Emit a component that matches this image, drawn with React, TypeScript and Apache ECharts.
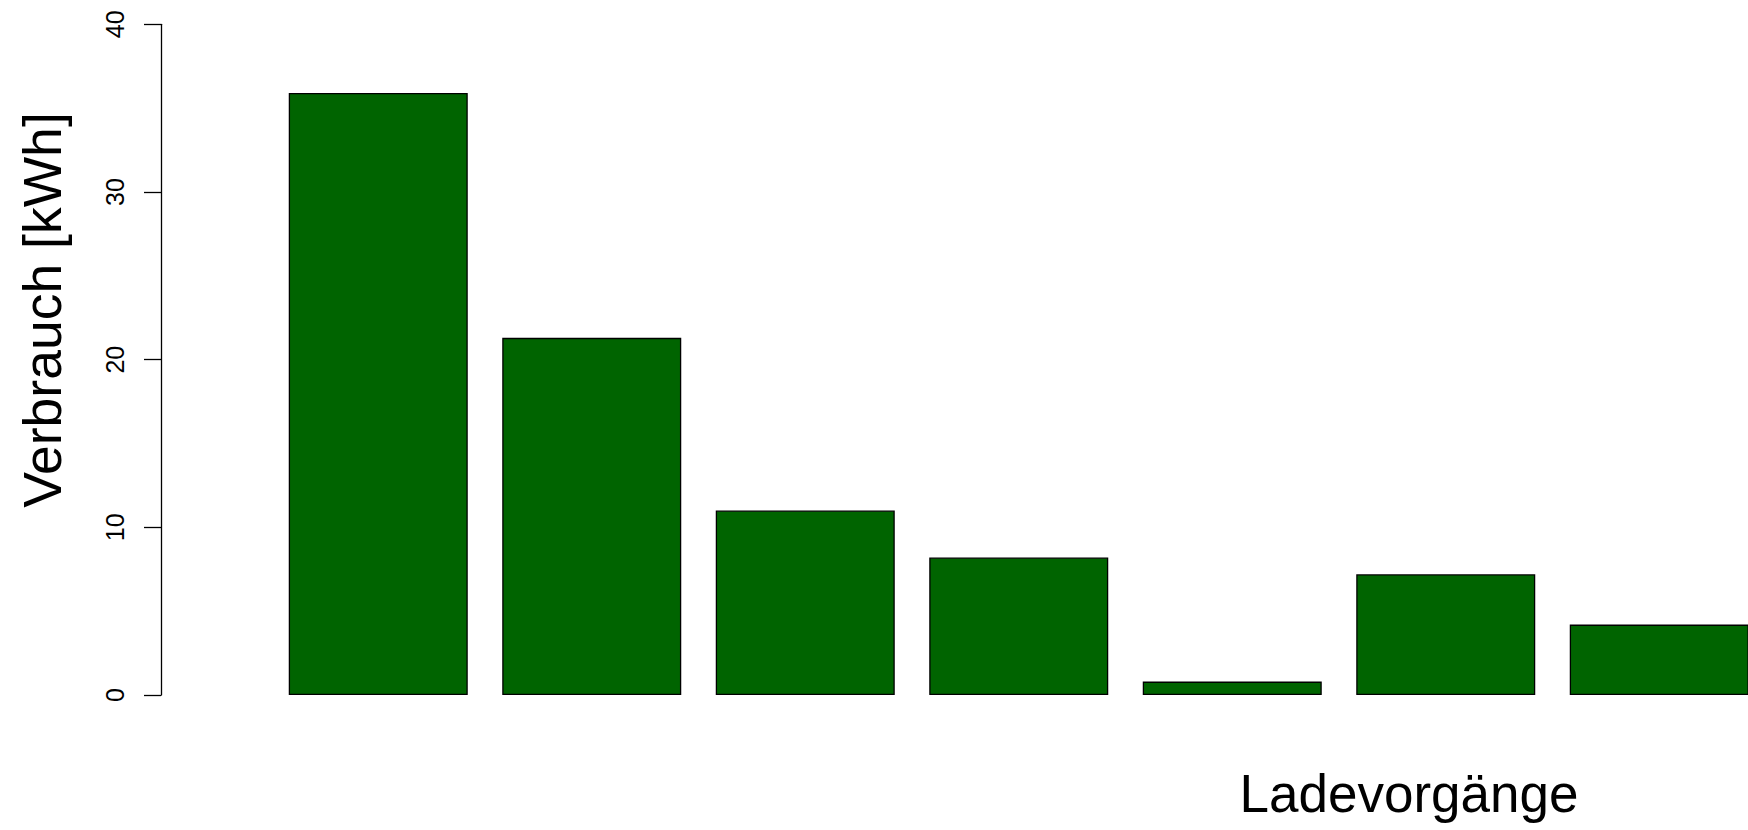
import React, { useEffect, useRef } from "react";
import * as echarts from "echarts";

const categories = ["1", "2", "3", "4", "5", "6", "7"];
const verbrauch = [35.9, 21.3, 11.0, 8.2, 0.8, 7.2, 4.2];
const yMin = 0;
const yMax = 40;
const yInterval = 10;
const yTitle = "Verbrauch [kWh]";
const xTitle = "Ladevorgänge";

const FONT = "'Liberation Sans', Arial, Helvetica, sans-serif";

export default function App() {
  const ref = useRef<HTMLDivElement>(null);
  useEffect(() => {
    if (!ref.current) return;
    const chart = echarts.init(ref.current, undefined, { renderer: "svg" });
    chart.setOption({
      animation: false,
      backgroundColor: "#ffffff",
      grid: { left: 271.5, right: 0, top: 24.3, bottom: 135, containLabel: false },
      xAxis: {
        type: "category",
        data: categories,
        boundaryGap: true,
        axisLine: { show: false },
        axisTick: { show: false },
        axisLabel: { show: false },
        splitLine: { show: false },
      },
      yAxis: {
        type: "value",
        min: yMin,
        max: yMax,
        interval: yInterval,
        offset: 110.5,
        axisLine: { show: true, lineStyle: { color: "#000", width: 1.3 } },
        axisTick: { show: true, length: 17, lineStyle: { color: "#000", width: 1.3 } },
        axisLabel: {
          show: true,
          rotate: 90,
          margin: 34,
          color: "#000",
          fontSize: 25,
          fontFamily: FONT,
        },
        splitLine: { show: false },
      },
      series: [
        {
          type: "bar",
          data: verbrauch,
          barWidth: 179,
          itemStyle: { color: "#006400", borderColor: "#000", borderWidth: 1.3 },
        },
      ],
      graphic: [
        {
          type: "text",
          x: 42,
          y: 310,
          rotation: Math.PI / 2,
          style: {
            text: yTitle,
            fontSize: 53.5,
            fontFamily: FONT,
            fill: "#000",
            align: "center",
            verticalAlign: "middle",
          },
        },
        {
          type: "text",
          x: 1409,
          y: 793,
          style: {
            text: xTitle,
            fontSize: 53,
            fontFamily: FONT,
            fill: "#000",
            align: "center",
            verticalAlign: "middle",
          },
        },
      ],
    });
    return () => chart.dispose();
  }, []);
  return (
    <div style={{ position: "absolute", left: 0, top: 0, width: 1748, height: 830, overflow: "hidden", background: "#fff" }}>
      <div ref={ref} style={{ width: 1766, height: 830 }} />
    </div>
  );
}
